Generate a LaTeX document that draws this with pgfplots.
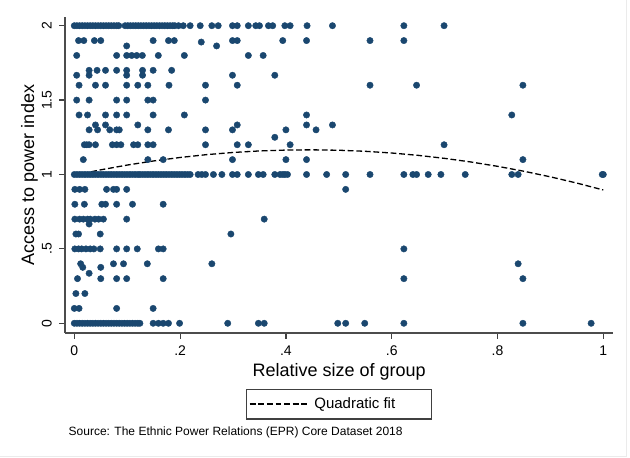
\documentclass[border=0pt]{standalone}
\usepackage{fontspec}
\setmainfont{Liberation Sans}
\usepackage{pgfplots}
\pgfplotsset{compat=1.18}
\definecolor{stnavy}{RGB}{26,71,111}
\tikzset{
  tlx/.style={anchor=base, inner sep=0pt, font=\fontsize{7}{8}\selectfont},
  tly/.style={rotate=90, anchor=base, inner sep=0pt, font=\fontsize{7}{8}\selectfont},
}
\begin{document}
\begin{tikzpicture}
\path[use as bounding box] (0,0) rectangle (315pt,229pt);
\begin{axis}[
  at={(32.5pt,62.5pt)}, anchor=south west,
  scale only axis, width=274.15pt, height=158pt,
  xmin=-0.0176, xmax=1.0189, ymin=-0.0652, ymax=2.0585,
  axis x line*=bottom, axis y line*=left,
  axis line style={black!70, line width=0.6pt, -},
  xtick={0,0.2,0.4,0.6,0.8,1}, xticklabels={},
  ytick={0,0.5,1,1.5,2}, yticklabels={},
  tick align=outside, major tick length=3pt,
  tick style={black!75, line width=0.6pt},
  xlabel={Relative size of group}, ylabel={Access to power index},
  label style={font=\fontsize{9}{10}\selectfont, inner sep=0pt},
  xlabel style={at={(axis description cs:0.5,-0.1361)}, anchor=base},
  ylabel style={at={(axis description cs:-0.0565,0.5)}, anchor=base},
  clip=false,
  legend style={at={(axis description cs:0.5,-0.176)}, anchor=north,
    draw=black!75, line width=0.6pt, inner xsep=1.3pt, inner ysep=2pt,
    font=\fontsize{7.5}{9}\selectfont,
    /tikz/every even column/.append style={column sep=0.5pt}},
  legend image code/.code={\draw[#1] (0pt,0pt) -- (30pt,0pt);},
]
\addplot[only marks, mark=*, mark size=1.6pt, mark options={fill=stnavy, draw=stnavy, line width=0.2pt}, forget plot] coordinates {
% y = 2
(0,2) (0.005,2) (0.01,2) (0.015,2) (0.02,2) (0.025,2) (0.03,2) (0.035,2) (0.04,2) (0.045,2) (0.05,2) (0.055,2) (0.06,2) (0.065,2) (0.07,2) (0.075,2) (0.08,2) (0.084,2)
(0.096,2) (0.101,2) (0.106,2) (0.111,2) (0.116,2) (0.121,2) (0.126,2) (0.131,2) (0.136,2) (0.141,2) (0.146,2) (0.151,2) (0.156,2) (0.161,2) (0.166,2) (0.171,2) (0.176,2) (0.181,2) (0.186,2) (0.19,2)
(0.197,2) (0.206,2) (0.219,2) (0.238,2) (0.26,2) (0.272,2) (0.299,2) (0.308,2) (0.329,2) (0.343,2) (0.35,2) (0.367,2) (0.375,2) (0.398,2) (0.408,2) (0.44,2) (0.488,2) (0.623,2) (0.699,2)
% y = 1.9
(0.008,1.9) (0.018,1.9) (0.038,1.9) (0.05,1.9) (0.149,1.9) (0.178,1.9) (0.189,1.9) (0.299,1.9) (0.308,1.9) (0.394,1.9) (0.439,1.9) (0.559,1.9) (0.623,1.9)
(0.24,1.89) (0.099,1.864) (0.269,1.864)
% y = 1.8
(0.0045,1.8) (0.08,1.8) (0.099,1.8) (0.1085,1.8) (0.118,1.8) (0.1286,1.8) (0.1588,1.8) (0.208,1.8) (0.329,1.8) (0.357,1.8)
% y = 1.7
(0.028,1.7) (0.043,1.7) (0.059,1.7) (0.08,1.7) (0.099,1.7) (0.129,1.7) (0.149,1.7) (0.184,1.7)
(0.0045,1.667) (0.028,1.667) (0.099,1.667) (0.129,1.667) (0.299,1.667) (0.379,1.667)
% y = 1.6
(0.009,1.6) (0.04,1.6) (0.059,1.6) (0.099,1.6) (0.12,1.6) (0.139,1.6) (0.179,1.6) (0.248,1.6) (0.308,1.6) (0.559,1.6) (0.647,1.6) (0.848,1.6)
% y = 1.5
(0.0045,1.5) (0.028,1.5) (0.08,1.5) (0.099,1.5) (0.139,1.5) (0.149,1.5) (0.248,1.5)
% y = 1.4
(0.009,1.4) (0.025,1.4) (0.059,1.4) (0.08,1.4) (0.099,1.4) (0.149,1.4) (0.208,1.4) (0.439,1.4) (0.827,1.4)
(0.04,1.333) (0.059,1.333) (0.12,1.333) (0.308,1.333) (0.439,1.333) (0.488,1.333)
% y = 1.3
(0.028,1.3) (0.044,1.3) (0.067,1.3) (0.08,1.3) (0.085,1.3) (0.139,1.3) (0.178,1.3) (0.248,1.3) (0.299,1.3) (0.4,1.3) (0.457,1.3)
(0.379,1.25)
% y = 1.2
(0.019,1.2) (0.0234,1.2) (0.028,1.2) (0.04,1.2) (0.072,1.2) (0.08,1.2) (0.088,1.2) (0.112,1.2) (0.12,1.2) (0.139,1.2) (0.149,1.2) (0.248,1.2) (0.308,1.2) (0.329,1.2) (0.408,1.2) (0.699,1.2)
% y = 1.1
(0.017,1.1) (0.139,1.1) (0.168,1.1) (0.299,1.1) (0.4,1.1) (0.439,1.1) (0.848,1.1)
% y = 1
(0,1) (0.005,1) (0.01,1) (0.015,1) (0.02,1) (0.025,1) (0.03,1) (0.035,1) (0.04,1) (0.045,1) (0.05,1) (0.055,1) (0.06,1) (0.065,1) (0.07,1) (0.075,1) (0.08,1) (0.085,1) (0.09,1) (0.095,1) (0.1,1) (0.105,1) (0.11,1) (0.115,1) (0.12,1) (0.124,1)
(0.129,1) (0.134,1) (0.139,1) (0.144,1) (0.149,1) (0.154,1) (0.159,1) (0.164,1) (0.169,1) (0.174,1) (0.179,1) (0.184,1) (0.189,1) (0.194,1) (0.199,1) (0.204,1) (0.209,1) (0.214,1) (0.219,1)
(0.234,1) (0.241,1) (0.248,1) (0.263,1) (0.279,1) (0.299,1) (0.308,1) (0.329,1) (0.348,1) (0.357,1) (0.379,1) (0.389,1) (0.394,1) (0.398,1) (0.403,1) (0.439,1) (0.477,1) (0.513,1)
(0.559,1) (0.623,1) (0.64,1) (0.647,1) (0.669,1) (0.693,1) (0.739,1) (0.827,1) (0.839,1) (0.998,1) (1,1)
% y = 0.9
(0.001,0.9) (0.01,0.9) (0.02,0.9) (0.061,0.9) (0.074,0.9) (0.08,0.9) (0.099,0.9) (0.513,0.9)
% y = 0.8
(0.001,0.8) (0.019,0.8) (0.052,0.8) (0.059,0.8) (0.08,0.8) (0.11,0.8) (0.168,0.8)
% y = 0.7
(0.001,0.7) (0.01,0.7) (0.017,0.7) (0.025,0.7) (0.03,0.7) (0.039,0.7) (0.046,0.7) (0.055,0.7) (0.099,0.7) (0.359,0.7)
(0.028,0.667)
% y = 0.6
(0.003,0.6) (0.008,0.6) (0.049,0.6) (0.296,0.6)
% y = 0.5
(0.001,0.5) (0.008,0.5) (0.014,0.5) (0.022,0.5) (0.03,0.5) (0.037,0.5) (0.049,0.5) (0.08,0.5) (0.099,0.5) (0.119,0.5) (0.159,0.5) (0.168,0.5) (0.623,0.5)
% y = 0.4
(0.012,0.4) (0.074,0.4) (0.093,0.4) (0.138,0.4) (0.26,0.4) (0.839,0.4)
(0.016,0.376) (0.05,0.376) (0.028,0.336)
% y = 0.3
(0.006,0.3) (0.05,0.3) (0.08,0.3) (0.099,0.3) (0.168,0.3) (0.623,0.3) (0.848,0.3)
% y = 0.2
(0.003,0.2) (0.02,0.2)
% y = 0.1
(0,0.1) (0.009,0.1) (0.08,0.1) (0.149,0.1)
% y = 0
(0,0) (0.005,0) (0.01,0) (0.015,0) (0.02,0) (0.025,0) (0.03,0) (0.035,0) (0.04,0) (0.045,0) (0.05,0) (0.055,0) (0.06,0) (0.065,0) (0.07,0) (0.075,0) (0.08,0) (0.085,0) (0.09,0) (0.095,0) (0.1,0) (0.105,0) (0.11,0) (0.115,0) (0.12,0) (0.124,0)
(0.149,0) (0.159,0) (0.168,0) (0.178,0) (0.199,0) (0.29,0) (0.348,0) (0.359,0) (0.498,0) (0.513,0) (0.549,0) (0.623,0) (0.848,0) (0.977,0)
};
\addplot[black, line width=0.65pt, dash pattern=on 2.9pt off 1.4pt] coordinates {
(0,0.995) (0.05,1.0314) (0.1,1.0634) (0.15,1.0911) (0.2,1.1144) (0.25,1.1334) (0.3,1.148) (0.35,1.1583) (0.4,1.1642) (0.45,1.1658) (0.5,1.163) (0.55,1.1559) (0.6,1.1444) (0.65,1.1286) (0.7,1.1084) (0.75,1.0839) (0.8,1.055) (0.85,1.0218) (0.9,0.9842) (0.95,0.9423) (1,0.896)
};
\addlegendentry{Quadratic fit\hspace*{15pt}}
% tick labels
\node[tlx] at (axis cs:0,-0.2198) {0};
\node[tlx] at (axis cs:0.2,-0.2198) {.2};
\node[tlx] at (axis cs:0.4,-0.2198) {.4};
\node[tlx] at (axis cs:0.6,-0.2198) {.6};
\node[tlx] at (axis cs:0.8,-0.2198) {.8};
\node[tlx] at (axis cs:1,-0.2198) {1};
\node[tly] at (axis description cs:-0.02426,0.0307) {0};
\node[tly] at (axis description cs:-0.02426,0.2661) {.5};
\node[tly] at (axis description cs:-0.02426,0.5016) {1};
\node[tly] at (axis description cs:-0.02426,0.7370) {1.5};
\node[tly] at (axis description cs:-0.02426,0.9724) {2};
\end{axis}
\node[anchor=base west, inner sep=0pt, font=\fontsize{6}{7}\selectfont] at (34.15pt,11pt) {Source: The Ethnic Power Relations (EPR) Core Dataset 2018};
\draw[black!8, line width=0.6pt] (313.4pt,229pt) -- (313.4pt,0.65pt) -- (0pt,0.65pt);
\end{tikzpicture}
\end{document}
